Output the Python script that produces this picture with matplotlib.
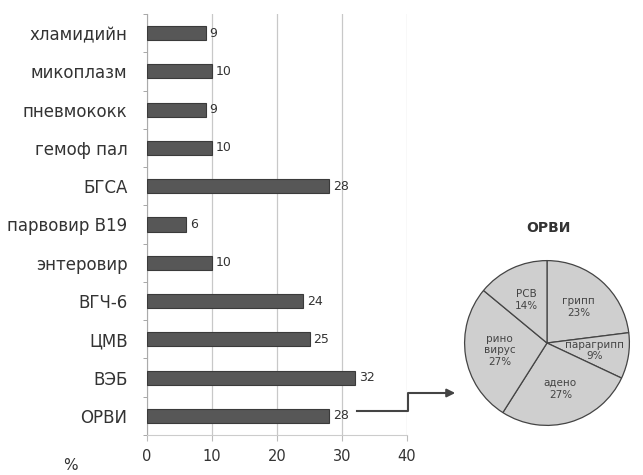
import matplotlib
matplotlib.use('Agg')
import matplotlib.pyplot as plt
import numpy as np

# bar data (top to bottom in the picture)
categories = ['хламидийн', 'микоплазм', 'пневмококк', 'гемоф пал', 'БГСА',
              'парвовир В19', 'энтеровир', 'ВГЧ-6', 'ЦМВ', 'ВЭБ', 'ОРВИ']
values = [9, 10, 9, 10, 28, 6, 10, 24, 25, 32, 28]
x_ticks = [0, 10, 20, 30, 40]

# pie data (ОРВИ breakdown), clockwise from the top
pie_labels = ['грипп', 'парагрипп', 'адено', 'рино\nвирус', 'РСВ']
pie_values = [23, 9, 27, 27, 14]

txt = '#333333'
plt.rcParams['font.family'] = ['DejaVu Sans']

fig = plt.figure(figsize=(6.43, 4.75), dpi=100)

########################## Bars
ax = fig.add_axes([147/643, 1-435/475, 260/643, 421/475])
ypos = np.arange(len(categories))[::-1]
ax.barh(ypos, values, height=0.37, color='#575757', edgecolor='#3a3a3a', lw=0.8, zorder=3)
for y, v in zip(ypos, values):
    ax.text(v + 0.6, y, str(v), va='center', ha='left', fontsize=9, color=txt)

ax.set_xlim(0, 40)
ax.set_ylim(-0.5, len(categories) - 0.5)
ax.set_xticks(x_ticks)
ax.set_xticklabels([str(t) for t in x_ticks], fontsize=10.5, color=txt)
ax.set_yticks(ypos)
ax.set_yticklabels(categories, fontsize=12, color=txt)
ax.set_yticks(np.arange(-0.5, len(categories), 1), minor=True)
ax.tick_params(axis='y', which='major', length=0, pad=14)
ax.tick_params(axis='y', which='minor', length=3, color='#999999')
ax.tick_params(axis='x', length=4, color='#bbbbbb', pad=6)
ax.grid(axis='x', color='#c8c8c8', lw=0.9, zorder=0)
for s in ['top', 'right']:
    ax.spines[s].set_visible(False)
ax.spines['left'].set_color('#aaaaaa')
ax.spines['bottom'].set_color('#cccccc')
fig.text(70/643, 1-466/475, '%', fontsize=11, color=txt, ha='center', va='center')

########################## Pie
pax = fig.add_axes([(547-103)/643, 1-(343+103)/475, 206/643, 206/475])
wedges, texts = pax.pie(pie_values, startangle=90, counterclock=False,
                        colors=['#cfcfcf'] * len(pie_values),
                        wedgeprops=dict(edgecolor='#444444', lw=0.9),
                        labels=[l + '\n' + str(v) + '%' for l, v in zip(pie_labels, pie_values)],
                        labeldistance=0.58, textprops=dict(fontsize=7.5, color='#444444', ha='center', va='center'))
pax.set_aspect('equal')
fig.text(548/643, 1-228/475, 'ОРВИ', fontsize=10, fontweight='bold', color=txt, ha='center', va='center')

########################## Connector arrow
fig.add_artist(plt.Line2D([357/643, 408/643, 408/643, 440/643],
                          [1-411/475, 1-411/475, 1-393/475, 1-393/475],
                          transform=fig.transFigure, color='#444444', lw=1.5))
fig.add_artist(matplotlib.patches.FancyArrowPatch((438/643, 1-393/475), (458/643, 1-393/475),
                                                  transform=fig.transFigure, arrowstyle='-|>',
                                                  mutation_scale=12, color='#444444', lw=1.5))

plt.savefig('out.png', dpi=100)
